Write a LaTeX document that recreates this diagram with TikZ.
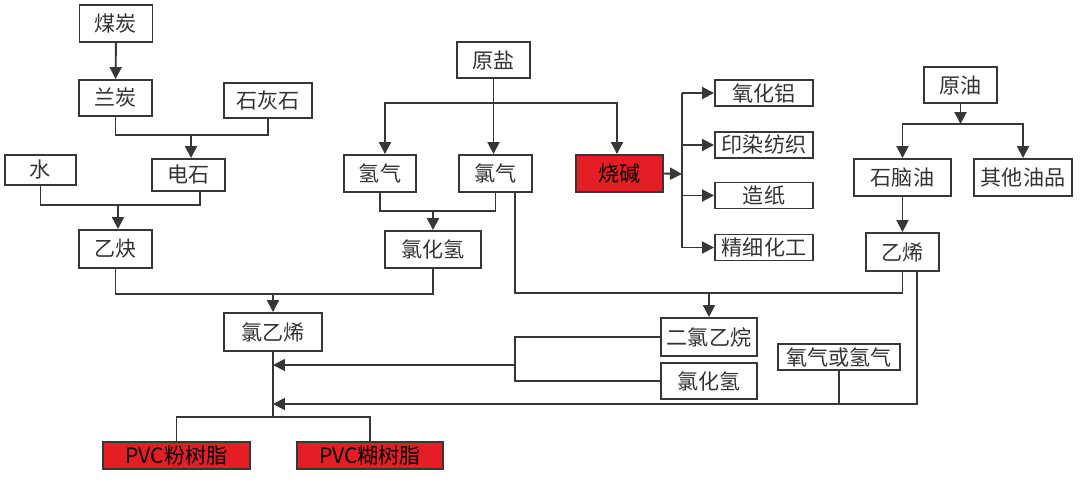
\documentclass[tikz,border=0pt]{standalone}
\usepackage{fontspec}
\setmainfont{Noto Sans CJK SC}
\usepackage{tikz}
\usepackage{xcolor}
\usetikzlibrary{arrows.meta}
\definecolor{ln}{RGB}{55,55,55}
\definecolor{rd}{RGB}{228,30,36}

\begin{document}
\begin{tikzpicture}[x=0.02cm,y=-0.02cm]
      \useasboundingbox(0,0) rectangle (1080,481);
      \tikzset{B/.style = {shape=rectangle, draw=ln, line width=1.1pt, text=black!80, inner sep=0pt,
          minimum width=1.46cm, minimum height=0.74cm, font=\fontsize{12}{13}\selectfont}}
      \tikzset{R/.style = {B, fill=rd, text=black}}
      \tikzset{S/.style = {B, minimum width=1.96cm, minimum height=0.52cm}}
      \tikzset{E/.style = {draw=ln, line width=1.1pt, -{Triangle[length=2.4mm,width=2.4mm]}}}
      \tikzset{L/.style = {draw=ln, line width=1.1pt}}
      % coal route
      \node[B](mt) at (116,23.5) {煤炭};
      \node[B,minimum height=0.72cm](lt) at (115.5,98) {兰炭};
      \node[B,minimum width=1.76cm,minimum height=0.70cm](shs) at (268,100.5) {石灰石};
      \node[B,minimum width=1.42cm,minimum height=0.60cm](shui) at (40.5,170) {水};
      \node[B,minimum height=0.64cm](ds) at (188.5,175) {电石};
      \node[B,minimum height=0.76cm](yq) at (115.5,249) {乙炔};
      % salt route
      \node[B,minimum height=0.72cm](ys) at (493.5,60) {原盐};
      \node[B,minimum width=1.44cm](qq) at (380,173.5) {氢气};
      \node[B](lq) at (495.5,173.5) {氯气};
      \node[R,minimum width=1.74cm](sj) at (619.5,173.5) {烧碱};
      \node[B,minimum width=1.92cm](lhq) at (433,249.5) {氯化氢};
      \node[S](alu) at (764,93) {氧化铝};
      \node[S](yrfz) at (764,145) {印染纺织};
      \node[S](zz) at (764,195.5) {造纸};
      \node[S](jxhg) at (764,247.5) {精细化工};
      % oil route
      \node[B,minimum height=0.72cm](yy) at (960.5,85) {原油};
      \node[B,minimum width=1.94cm](snq) at (902.5,177.5) {石脑油};
      \node[B,minimum width=1.96cm](qtyp) at (1023,177.5) {其他油品};
      \node[B,minimum height=0.76cm](yx) at (902.5,252) {乙烯};
      % products
      \node[B,minimum width=1.96cm,minimum height=0.76cm](lyx) at (273,332) {氯乙烯};
      \node[B,minimum width=1.92cm,minimum height=0.76cm](elyw) at (709,337) {二氯乙烷};
      \node[B,minimum width=1.92cm,minimum height=0.72cm](lhq2) at (709,381) {氯化氢};
      \node[S,minimum width=2.44cm](yq2) at (839,357) {氧气或氢气};
      \node[R,minimum width=2.94cm,minimum height=0.54cm](pvc1) at (176.5,455.5) {PVC粉树脂};
      \node[R,minimum width=2.92cm,minimum height=0.54cm](pvc2) at (370,455.5) {PVC糊树脂};
      % junctions
      \coordinate(j1) at (191,135);
      \coordinate(j2) at (118,205);
      \coordinate(j3) at (273,294);
      \coordinate(j4) at (495,103);
      \coordinate(j5) at (433,211);
      \coordinate(j6) at (709,293);
      \coordinate(j7) at (682,174);
      \coordinate(j8) at (960.5,124);
      \coordinate(j9) at (273,417);
      \coordinate(j10) at (515,365);
      \coordinate(j11) at (273,404);
      % coal
      \draw[E](mt) to (lt);
      \draw[L](lt.south) |- (j1) -| (shs.south);
      \draw[E](j1) to (j1 |- ds.north);
      \draw[L](shui.south) |- (j2) -| ([xshift=0.23cm]ds.south);
      \draw[E](j2) to (j2 |- yq.north);
      \draw[L](yq.south) |- (j3) -| (lhq.south);
      \draw[E](j3) to (lyx.north);
      % salt
      \draw[E](ys.south) to (ys.south |- lq.north);
      \draw[E](j4) -| ([xshift=0.1cm]qq.north);
      \draw[E](j4) -| ([xshift=-0.05cm]sj.north);
      \draw[L](qq.south) |- (j5) -| (lq.south);
      \draw[E](j5) to (lhq.north);
      \draw[L]([xshift=0.39cm]lq.south) |- (j6) -| (yx.south);
      \draw[E](j6) to (elyw.north);
      \draw[E](sj.east) to (j7);
      \draw[L](alu.west -| j7) to (jxhg.west -| j7);
      \foreach \n in {alu,yrfz,zz,jxhg}
        \draw[E](\n.west -| j7) to (\n.west);
      % oil
      \draw[E](yy.south) to (j8);
      \draw[E](j8) -| (snq.north);
      \draw[E](j8) -| (qtyp.north);
      \draw[E](snq) to (yx);
      % chlorination
      \draw[L](elyw.west) -| (j10);
      \draw[L](lhq2.west) -| (j10);
      \draw[E](j10) to (j10 -| lyx.south);
      \draw[E]([xshift=0.29cm]yx.south) |- (j11);
      \draw[L](yq2.south) to (yq2.south |- j11);
      \draw[L](lyx.south) to (j9);
      \draw[L](j9) -| (pvc1.north);
      \draw[L](j9) -| (pvc2.north);
    \end{tikzpicture}
\end{document}
